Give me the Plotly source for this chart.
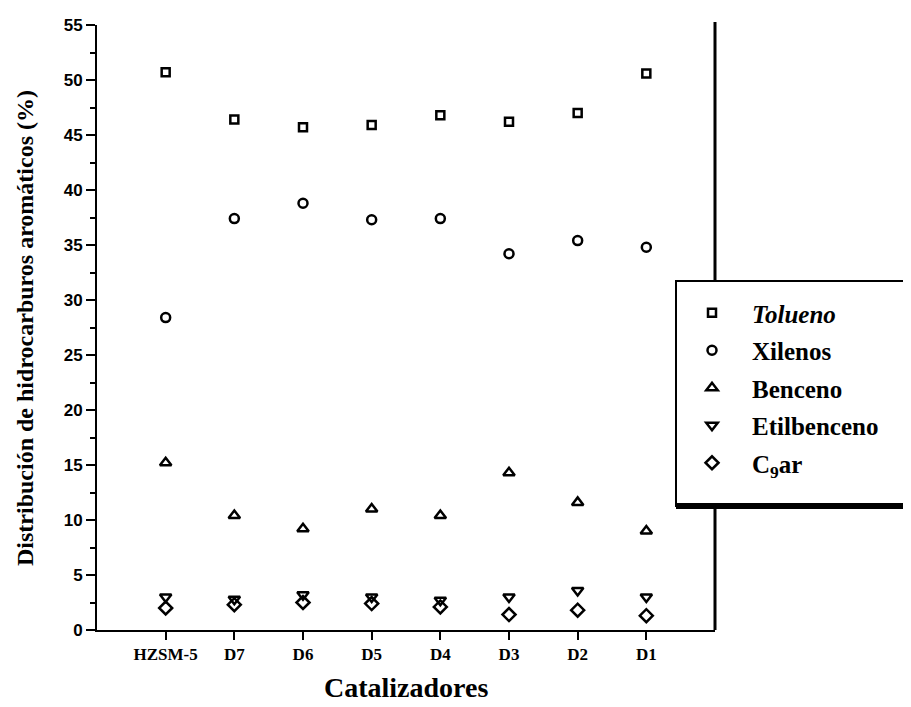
import plotly.graph_objects as go

# ---- data ----
categorias = ["HZSM-5", "D7", "D6", "D5", "D4", "D3", "D2", "D1"]
tolueno = [50.7, 46.4, 45.7, 45.9, 46.8, 46.2, 47.0, 50.6]
xilenos = [28.4, 37.4, 38.8, 37.3, 37.4, 34.2, 35.4, 34.8]
benceno = [15.2, 10.4, 9.2, 11.0, 10.4, 14.3, 11.6, 9.0]
etilbenceno = [3.0, 2.8, 3.2, 3.0, 2.7, 3.0, 3.6, 3.0]
c9ar = [2.0, 2.3, 2.5, 2.4, 2.1, 1.4, 1.8, 1.3]
y_ticks = [0, 5, 10, 15, 20, 25, 30, 35, 40, 45, 50, 55]

series = [
    ("<i>Tolueno</i>", tolueno, "square-open", 8),
    ("Xilenos", xilenos, "circle-open", 9),
    ("Benceno", benceno, "triangle-up-open", 10),
    ("Etilbenceno", etilbenceno, "triangle-down-open", 10),
    ("C<sub>9</sub>ar", c9ar, "diamond-open", 10),
]

W, H = 911, 707
ML, MR, MT, MB = 89, 204, 17, 85
PW = W - ML - MR
PH = H - MT - MB


def px_x(p):
    return (p - ML) / PW


def px_y(p):
    return (H - MB - p) / PH


fig = go.Figure()
for i, (name, vals, sym, sz) in enumerate(series):
    fig.add_trace(go.Scatter(
        x=categorias, y=vals, mode="markers", name=name,
        legendgroup=f"g{i}",
        marker=dict(symbol=sym, size=sz, color="black",
                    line=dict(color="black", width=2.5)),
    ))

serif = "Liberation Serif, Times New Roman, serif"

fig.update_layout(
    width=W, height=H,
    margin=dict(l=ML, r=MR, t=MT, b=MB, autoexpand=False),
    paper_bgcolor="white", plot_bgcolor="white",
    showlegend=True,
    legend=dict(
        x=px_x(664), y=px_y(282), xanchor="left", yanchor="top",
        bgcolor="rgba(0,0,0,0)", borderwidth=0,
        font=dict(family=serif, size=25, color="black", weight="bold"),
        itemwidth=70, tracegroupgap=2,
    ),
    xaxis=dict(
        type="category", categoryorder="array", categoryarray=categorias,
        range=[-1, 8], showline=True, linewidth=2, linecolor="black",
        ticks="outside", ticklen=8, tickwidth=2, tickcolor="black",
        tickfont=dict(family=serif, size=17, color="black", weight="bold"),
        showgrid=False, zeroline=False, mirror=False,
    ),
    yaxis=dict(
        range=[0, 55], tickvals=y_ticks,
        showline=True, linewidth=2, linecolor="black", mirror=False,
        ticks="outside", ticklen=9, tickwidth=2, tickcolor="black",
        tickfont=dict(family="Liberation Sans, Arial, sans-serif", size=17,
                      color="black", weight="bold"),
        minor=dict(dtick=2.5, tick0=0, ticks="outside", ticklen=5,
                   tickwidth=2, tickcolor="black"),
        showgrid=False, zeroline=False,
    ),
    shapes=[
        dict(type="line", xref="paper", yref="paper", layer="below",
             x0=1, x1=1, y0=0, y1=px_y(14),
             line=dict(color="black", width=3)),
        dict(type="rect", xref="paper", yref="paper", layer="above",
             x0=px_x(668), x1=px_x(930), y0=px_y(273), y1=px_y(498),
             fillcolor="white", line=dict(color="black", width=2)),
        dict(type="line", xref="paper", yref="paper", layer="above",
             x0=px_x(668), x1=px_x(930), y0=px_y(498), y1=px_y(498),
             line=dict(color="black", width=6)),
    ],
    annotations=[
        dict(text="Distribución de hidrocarburos aromáticos (%)",
             xref="paper", yref="paper", x=px_x(17), y=px_y(320),
             xanchor="center", yanchor="middle", textangle=-90,
             showarrow=False,
             font=dict(family=serif, size=24, color="black", weight="bold")),
        dict(text="Catalizadores", xref="paper", yref="paper",
             x=0.5, y=px_y(697), xanchor="center", yanchor="bottom",
             showarrow=False,
             font=dict(family=serif, size=28, color="black", weight="bold")),
    ],
)

fig.write_html("out.html")
